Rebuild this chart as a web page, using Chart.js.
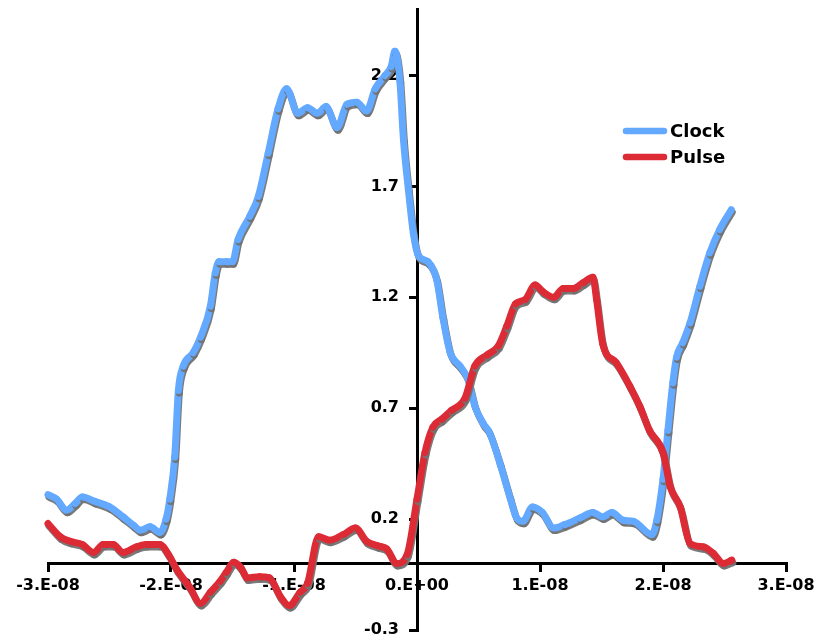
<!DOCTYPE html>
<html>
<head>
<meta charset="utf-8">
<script src="https://cdn.jsdelivr.net/npm/chart.js@4/dist/chart.umd.min.js"></script>
<style>
html,body{margin:0;padding:0;background:#fff;}
#wrap{width:817px;height:642px;}
</style>
</head>
<body>
<div id="wrap"><canvas id="c" width="817" height="642"></canvas></div>
<script>
// ---- data (time in units of 1e-8 s) ----
const clockT = [-3.00,-2.93,-2.85,-2.78,-2.72,-2.62,-2.50,-2.39,-2.30,-2.25,-2.17,-2.09,-2.04,-2.01,-1.97,-1.94,-1.90,-1.82,-1.76,-1.68,-1.64,-1.61,-1.55,-1.50,-1.455,-1.36,-1.29,-1.21,-1.13,-1.06,-0.97,-0.89,-0.81,-0.74,-0.65,-0.57,-0.49,-0.41,-0.34,-0.26,-0.21,-0.18,-0.14,-0.11,-0.07,-0.03,0.01,0.09,0.16,0.21,0.27,0.35,0.415,0.47,0.54,0.59,0.675,0.755,0.81,0.86,0.94,1.02,1.11,1.20,1.325,1.43,1.51,1.585,1.675,1.76,1.91,1.95,2.00,2.04,2.08,2.11,2.16,2.22,2.30,2.38,2.46,2.555];
const clockV = [0.31,0.29,0.24,0.27,0.30,0.28,0.255,0.21,0.17,0.15,0.165,0.14,0.20,0.29,0.48,0.78,0.89,0.95,1.02,1.16,1.31,1.36,1.36,1.36,1.46,1.565,1.655,1.85,2.05,2.14,2.03,2.055,2.03,2.06,1.965,2.07,2.08,2.04,2.14,2.20,2.24,2.31,2.18,1.91,1.685,1.49,1.39,1.36,1.28,1.11,0.95,0.89,0.83,0.71,0.63,0.59,0.45,0.30,0.205,0.19,0.255,0.23,0.16,0.175,0.205,0.23,0.21,0.23,0.195,0.19,0.13,0.195,0.38,0.60,0.815,0.93,0.995,1.085,1.25,1.40,1.505,1.595];
const pulseT = [-3.00,-2.90,-2.82,-2.72,-2.63,-2.55,-2.47,-2.39,-2.28,-2.20,-2.09,-2.02,-1.95,-1.85,-1.76,-1.68,-1.60,-1.55,-1.49,-1.43,-1.38,-1.28,-1.20,-1.11,-1.04,-0.95,-0.89,-0.80,-0.71,-0.60,-0.50,-0.41,-0.32,-0.245,-0.165,-0.08,0.00,0.065,0.13,0.20,0.28,0.39,0.47,0.57,0.66,0.73,0.80,0.88,0.96,1.025,1.11,1.19,1.27,1.35,1.43,1.46,1.51,1.62,1.73,1.81,1.89,2.00,2.06,2.14,2.22,2.33,2.41,2.49,2.56];
const pulseV = [0.18,0.12,0.10,0.085,0.05,0.085,0.085,0.05,0.075,0.085,0.085,0.04,-0.03,-0.105,-0.18,-0.13,-0.08,-0.04,0.005,-0.02,-0.065,-0.06,-0.065,-0.15,-0.19,-0.13,-0.09,0.12,0.105,0.13,0.16,0.10,0.08,0.065,0.0,0.04,0.29,0.50,0.615,0.65,0.69,0.745,0.89,0.94,0.98,1.07,1.17,1.19,1.255,1.225,1.20,1.24,1.24,1.265,1.29,1.19,0.99,0.905,0.80,0.71,0.60,0.50,0.345,0.255,0.09,0.075,0.045,0.0,0.015];
const seriesNames = ['Clock','Pulse'];
const xTicks = [-3e-8,-2e-8,-1e-8,0,1e-8,2e-8,3e-8];
const xTickLabels = ['-3.E-08','-2.E-08','-1.E-08','0.E+00','1.E-08','2.E-08','3.E-08'];
const yTicks = [-0.3,0.2,0.7,1.2,1.7,2.2];
const yTickLabels = ['-0.3','0.2','0.7','1.2','1.7','2.2'];

const colors = ['#63A9FF','#DD2B36'];
const toPts = (t,v) => t.map((x,i)=>({x:x*1e-8,y:v[i]}));

Chart.defaults.font.family = "'DejaVu Sans', Verdana, sans-serif";
Chart.defaults.font.weight = 'bold';
Chart.defaults.font.size = 16;
Chart.defaults.color = '#000';

const shadowPlugin = {
  id:'shadow',
  beforeDatasetDraw(chart){
    const ctx = chart.ctx; ctx.save();
    ctx.shadowColor = 'rgba(115,115,115,0.95)';
    ctx.shadowOffsetX = 1; ctx.shadowOffsetY = 2.5; ctx.shadowBlur = 0;
  },
  afterDatasetDraw(chart){ chart.ctx.restore(); }
};

// y labels sit left of the centred axis, past its tick marks
const yLabelShift = {
  id:'yLabelShift',
  beforeDraw(chart){
    const s = chart.scales.y;
    const items = s.getLabelItems(chart.chartArea);
    if (!items._shifted) {
      items.forEach(it => { it.options.translation[0] -= 18; });
      items._shifted = true;
    }
  }
};

const legendPlugin = {
  id:'customLegend',
  afterDraw(chart){
    const ctx = chart.ctx;
    ctx.save();
    const x0 = 623, x1 = 667, ys = [131, 157];
    chart.data.datasets.forEach((ds,i)=>{
      ctx.strokeStyle = ds.borderColor; ctx.lineWidth = 6.5; ctx.lineCap = 'round';
      ctx.beginPath(); ctx.moveTo(x0+3, ys[i]); ctx.lineTo(x1-3, ys[i]); ctx.stroke();
      ctx.fillStyle = '#000'; ctx.font = "bold 18px 'DejaVu Sans', Verdana, sans-serif";
      ctx.textBaseline = 'middle'; ctx.textAlign = 'left';
      ctx.fillText(ds.label, 670, ys[i]+1);
    });
    ctx.restore();
  }
};

// draw each segment as its own stroke (like the original), so shadows overlap at points
const segStyle = { borderDashOffset: c => (c.p0DataIndex % 2) ? 0 : 0.001 };

new Chart(document.getElementById('c'), {
  type:'line',
  data:{
    datasets:[
      {label:seriesNames[0], data:toPts(clockT,clockV), borderColor:colors[0], order:1, segment:segStyle},
      {label:seriesNames[1], data:toPts(pulseT,pulseV), borderColor:colors[1], order:0, segment:segStyle}
    ]
  },
  options:{
    responsive:false, animation:false,
    parsing:false,
    layout:{padding:{left:48,right:31,top:9,bottom:12}},
    elements:{
      line:{borderWidth:7, cubicInterpolationMode:'monotone', borderCapStyle:'round', borderJoinStyle:'round', fill:false},
      point:{radius:0, hoverRadius:0}
    },
    datasets:{line:{clip:false}},
    plugins:{legend:{display:false}, tooltip:{enabled:false}},
    scales:{
      x:{
        type:'linear', min:-3e-8, max:3e-8, position:{y:0},
        afterBuildTicks(s){ s.ticks = xTicks.map(v=>({value:v})); },
        afterFit(s){ s.paddingLeft = 0; s.paddingRight = 0; },
        ticks:{ padding:6, autoSkip:false, maxRotation:0, callback:(v,i)=>xTickLabels[i] },
        grid:{ drawOnChartArea:false, drawTicks:true, tickLength:7, color:'#000', lineWidth:3 },
        border:{ display:true, color:'#000', width:3 }
      },
      y:{
        type:'linear', min:-0.3, max:2.5, position:{x:0},
        afterBuildTicks(s){ s.ticks = yTicks.map(v=>({value:v})); },
        afterFit(s){ s.paddingTop = 0; s.paddingBottom = 0; },
        ticks:{ padding:0, autoSkip:false, callback:(v,i)=>yTickLabels[i] },
        grid:{ drawOnChartArea:false, drawTicks:true, tickLength:7, color:'#000', lineWidth:3 },
        border:{ display:true, color:'#000', width:3 }
      }
    }
  },
  plugins:[shadowPlugin, yLabelShift, legendPlugin]
});
</script>
</body>
</html>
